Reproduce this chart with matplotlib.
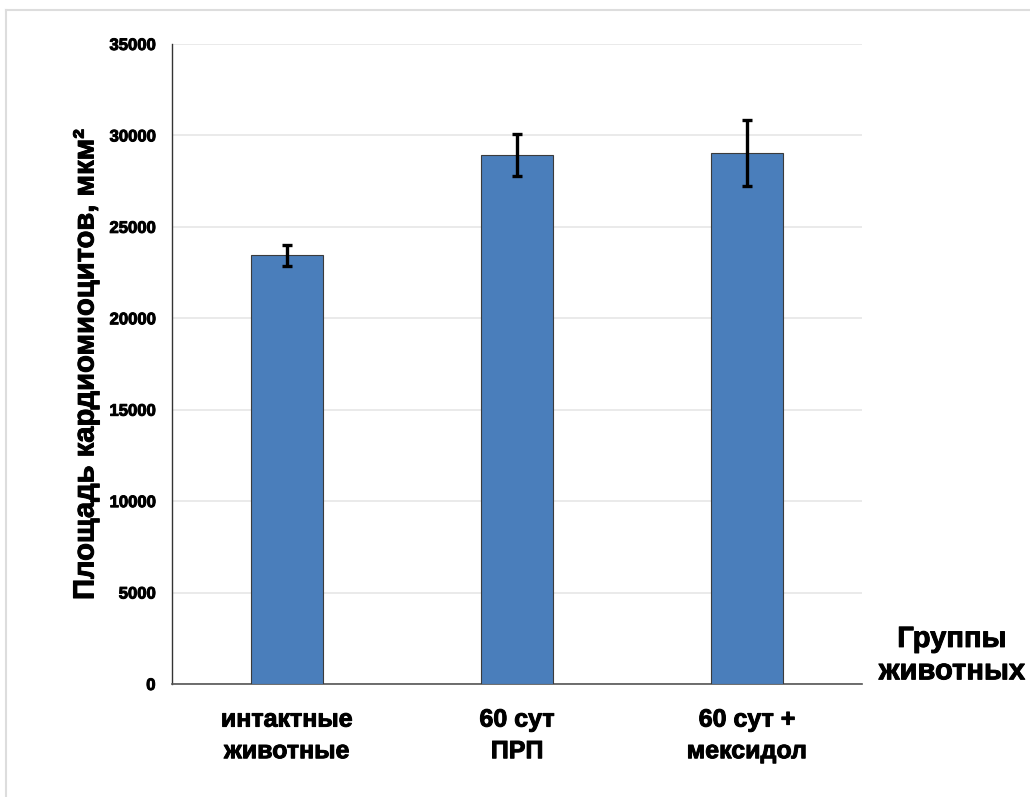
import numpy as np
import matplotlib.pyplot as plt
import matplotlib.patheffects as pe
from matplotlib.lines import Line2D

# data
groups = ['интактные\nживотные', '60 сут\nПРП', '60 сут +\nмексидол']
area = [23450, 28930, 29040]
err = [570, 1150, 1800]
yticks = [0, 5000, 10000, 15000, 20000, 25000, 30000, 35000]

plt.rcParams['font.family'] = ['Liberation Sans', 'DejaVu Sans']
heavy = [pe.withStroke(linewidth=0.7, foreground='black')]

fig = plt.figure(figsize=(10.3, 7.97), dpi=100)
ax = fig.add_axes([0.167, 0.1418, 0.6699, 0.803])

x = np.arange(len(groups)) + 0.5
ax.bar(x, area, width=0.31, color='#4a7ebb', edgecolor='#3b3b3b', linewidth=0.8, zorder=3)
ax.errorbar(x, area, yerr=err, fmt='none', ecolor='black', elinewidth=2.4,
            capsize=3.5, capthick=2.4, zorder=4)

ax.set_xlim(0, 3)
ax.set_ylim(0, 35000)
ax.set_yticks(yticks)
ax.set_yticklabels([str(v) for v in yticks], fontsize=12, fontweight='bold')
ax.set_xticks(x)
ax.set_xticklabels(groups, fontsize=18, fontweight='bold', linespacing=1.4)
for t in ax.get_xticklabels() + ax.get_yticklabels():
    t.set_path_effects(heavy)
ax.tick_params(axis='both', length=0)
ax.tick_params(axis='y', pad=12)
ax.tick_params(axis='x', pad=17)
ax.grid(axis='y', color='#e6e6e6', linewidth=1.2, zorder=0)
for s in ['top', 'right']:
    ax.spines[s].set_visible(False)
ax.spines['left'].set_color('#333333')
ax.spines['bottom'].set_color('#555555')
ax.spines['left'].set_linewidth(1.0)
ax.spines['bottom'].set_linewidth(1.2)

fig.text(0.083, 0.542, 'Площадь кардиомиоцитов, мкм²', rotation=90,
         ha='center', va='center', fontsize=21, fontweight='bold', path_effects=heavy)
fig.text(0.924, 0.178, 'Группы\nживотных', ha='center', va='center', fontsize=21,
         fontweight='bold', linespacing=1.2, path_effects=heavy)

# light frame of the picture
fig.add_artist(Line2D([0.006, 1.0], [0.987, 0.987], color='#dddddd', linewidth=1.5))
fig.add_artist(Line2D([0.006, 0.006], [0.0, 0.987], color='#dddddd', linewidth=1.5))

fig.savefig('out.png', dpi=100)
